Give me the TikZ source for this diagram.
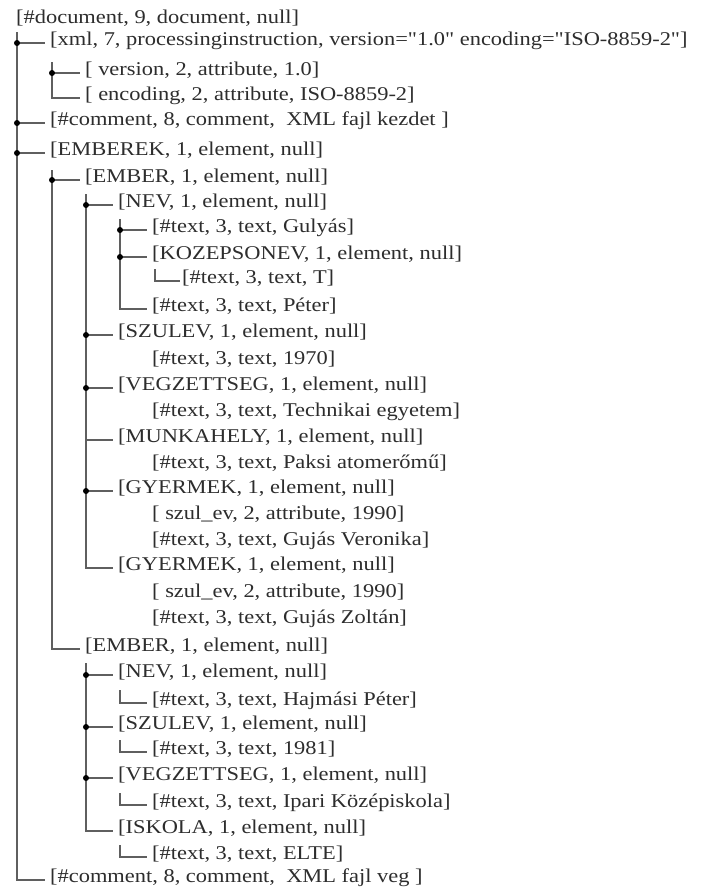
\documentclass[tikz,border=0pt]{standalone}
\usepackage{fontspec}
\setmainfont{Liberation Serif}[FakeStretch=1.15,Ligatures=TeXOff]
\definecolor{linegray}{RGB}{95,95,95}
\definecolor{txtgray}{RGB}{45,45,45}
\begin{document}
\begin{tikzpicture}[x=1pt,y=-1pt,
  lbl/.style={anchor=west,inner sep=0pt,text height=0.7em,text depth=0.2em,
    font=\fontsize{19.5}{20}\selectfont,text=txtgray},
  branch/.style={draw=linegray,line width=1.8pt},
  joint/.style={fill=black,circle,inner sep=0pt,minimum size=6pt}]
\useasboundingbox[fill=white] (0,0) rectangle (707,892);
% ---------- labels ----------
\node[lbl] (n0)  at (16,21)  {[\#document, 9, document, null]};
\node[lbl] (n1)  at (50,43)  {[xml, 7, processinginstruction, version="1.0" encoding="ISO-8859-2"]};
\node[lbl] (n2)  at (85,73)  {[ version, 2, attribute, 1.0]};
\node[lbl] (n3)  at (85,98)  {[ encoding, 2, attribute, ISO-8859-2]};
\node[lbl] (n4)  at (50,123) {[\#comment, 8, comment,\ \ XML fajl kezdet ]};
\node[lbl] (n5)  at (50,153) {[EMBEREK, 1, element, null]};
\node[lbl] (n6)  at (85,180) {[EMBER, 1, element, null]};
\node[lbl] (n7)  at (118,205) {[NEV, 1, element, null]};
\node[lbl] (n8)  at (152,230) {[\#text, 3, text, Gulyás]};
\node[lbl] (n9)  at (152,257) {[KOZEPSONEV, 1, element, null]};
\node[lbl] (n10) at (182,281) {[\#text, 3, text, T]};
\node[lbl] (n11) at (152,309) {[\#text, 3, text, Péter]};
\node[lbl] (n12) at (118,335) {[SZULEV, 1, element, null]};
\node[lbl] (n13) at (152,362) {[\#text, 3, text, 1970]};
\node[lbl] (n14) at (118,388) {[VEGZETTSEG, 1, element, null]};
\node[lbl] (n15) at (152,414) {[\#text, 3, text, Technikai egyetem]};
\node[lbl] (n16) at (118,440) {[MUNKAHELY, 1, element, null]};
\node[lbl] (n17) at (152,466) {[\#text, 3, text, Paksi atomerőmű]};
\node[lbl] (n18) at (118,491) {[GYERMEK, 1, element, null]};
\node[lbl] (n19) at (152,517) {[ szul\_ev, 2, attribute, 1990]};
\node[lbl] (n20) at (152,543) {[\#text, 3, text, Gujás Veronika]};
\node[lbl] (n21) at (118,568) {[GYERMEK, 1, element, null]};
\node[lbl] (n22) at (152,595) {[ szul\_ev, 2, attribute, 1990]};
\node[lbl] (n23) at (152,621) {[\#text, 3, text, Gujás Zoltán]};
\node[lbl] (n24) at (85,649) {[EMBER, 1, element, null]};
\node[lbl] (n25) at (118,675) {[NEV, 1, element, null]};
\node[lbl] (n26) at (152,703) {[\#text, 3, text, Hajmási Péter]};
\node[lbl] (n27) at (118,727) {[SZULEV, 1, element, null]};
\node[lbl] (n28) at (152,752) {[\#text, 3, text, 1981]};
\node[lbl] (n29) at (118,778) {[VEGZETTSEG, 1, element, null]};
\node[lbl] (n30) at (152,805) {[\#text, 3, text, Ipari Középiskola]};
\node[lbl] (n31) at (118,831) {[ISKOLA, 1, element, null]};
\node[lbl] (n32) at (152,857) {[\#text, 3, text, ELTE]};
\node[lbl] (n33) at (50,880) {[\#comment, 8, comment,\ \ XML fajl veg ]};
% ---------- trunk tops ----------
\coordinate (t0)  at (17,32);
\coordinate (t1)  at (52,62);
\coordinate (t5)  at (52,170);
\coordinate (t6)  at (86,194);
\coordinate (t7)  at (120,219);
\coordinate (t9)  at (155,269);
\coordinate (t24) at (86,663);
\coordinate (t25) at (120,690);
\coordinate (t27) at (120,740);
\coordinate (t29) at (120,793);
\coordinate (t31) at (120,845);
% ---------- corners (last children) ----------
\foreach \t/\n in {t0/n33,t1/n3,t5/n24,t6/n21,t7/n11,t24/n31,t25/n26,t27/n28,t29/n30,t31/n32}
  \draw[branch] (\t) |- ([xshift=-5pt]\n.west);
\draw[branch] (t9) |- ([xshift=-2pt]n10.west);
% ---------- tees ----------
\foreach \t/\n in {t0/n1,t0/n4,t0/n5,t1/n2,t5/n6,t6/n7,t6/n12,t6/n14,t6/n16,t6/n18,t7/n8,t7/n9,t24/n25,t24/n27,t24/n29}
  \draw[branch] (\t |- \n.west) -- ([xshift=-5pt]\n.west);
% ---------- joints ----------
\foreach \t/\n in {t0/n1,t0/n4,t0/n5,t1/n2,t5/n6,t6/n7,t6/n12,t6/n14,t6/n18,t7/n8,t7/n9,t24/n25,t24/n27,t24/n29}
  \node[joint] at (\t |- \n.west) {};
\end{tikzpicture}
\end{document}
